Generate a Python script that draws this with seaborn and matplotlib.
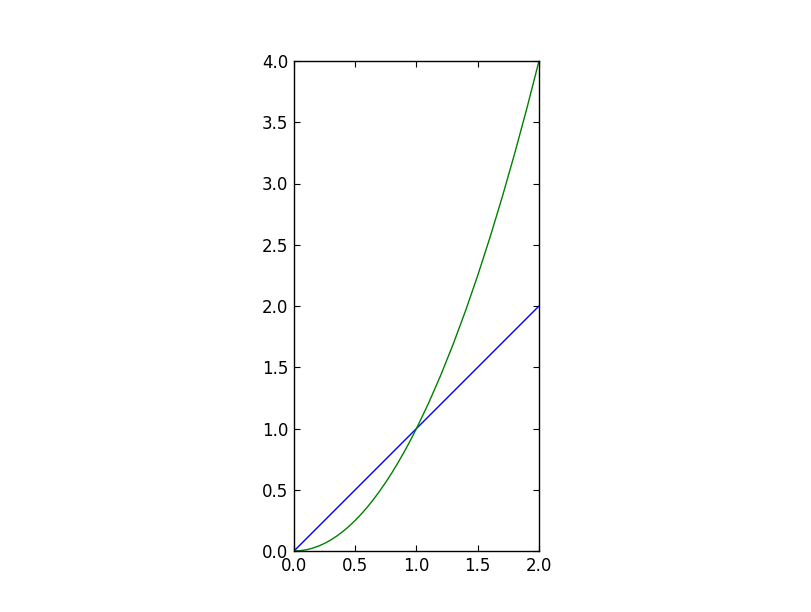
import matplotlib
matplotlib.use('Agg')
import matplotlib.pyplot as plt
import pandas as pd
import seaborn as sns

# values
blue_x = [0.0, 2.0]
blue_vals = [0.0, 2.0]
green_x = [0.0, 0.05, 0.1, 0.15, 0.2, 0.25, 0.3, 0.35, 0.4, 0.45, 0.5,
           0.55, 0.6, 0.65, 0.7, 0.75, 0.8, 0.85, 0.9, 0.95, 1.0,
           1.1, 1.2, 1.3, 1.4, 1.5, 1.6, 1.7, 1.8, 1.9, 2.0]
green_vals = [0.0, 0.0025, 0.01, 0.0225, 0.04, 0.0625, 0.09, 0.1225, 0.16,
              0.2025, 0.25, 0.3025, 0.36, 0.4225, 0.49, 0.5625, 0.64,
              0.7225, 0.81, 0.9025, 1.0,
              1.21, 1.44, 1.69, 1.96, 2.25, 2.56, 2.89, 3.24, 3.61, 4.0]
x_ticks = [0.0, 0.5, 1.0, 1.5, 2.0]
y_ticks = [0.0, 0.5, 1.0, 1.5, 2.0, 2.5, 3.0, 3.5, 4.0]

sns.set_style('ticks', {'xtick.direction': 'in', 'ytick.direction': 'in'})
plt.rcParams['font.family'] = ['DejaVu Sans']

df_blue = pd.DataFrame({'x': blue_x, 'y': blue_vals})
df_green = pd.DataFrame({'x': green_x, 'y': green_vals})

fig = plt.figure(figsize=(8.12, 6.12), dpi=100)
ax = fig.add_axes([294 / 812, 61 / 612, 245 / 812, 490 / 612])

sns.lineplot(data=df_blue, x='x', y='y', ax=ax, color='#0000ff', linewidth=1)
sns.lineplot(data=df_green, x='x', y='y', ax=ax, color='#008000', linewidth=1)

ax.set_xlim(0, 2)
ax.set_ylim(0, 4)
ax.set_xticks(x_ticks)
ax.set_yticks(y_ticks)
ax.set_xticklabels([f'{t:.1f}' for t in x_ticks])
ax.set_yticklabels([f'{t:.1f}' for t in y_ticks])
ax.set_xlabel('')
ax.set_ylabel('')
ax.tick_params(which='both', direction='in', top=True, right=True,
               length=4, width=0.8, labelsize=12, pad=4, colors='black')
for s in ax.spines.values():
    s.set_visible(True)
    s.set_color('black')
    s.set_linewidth(1)

fig.savefig('out.png', dpi=100, facecolor='white')
